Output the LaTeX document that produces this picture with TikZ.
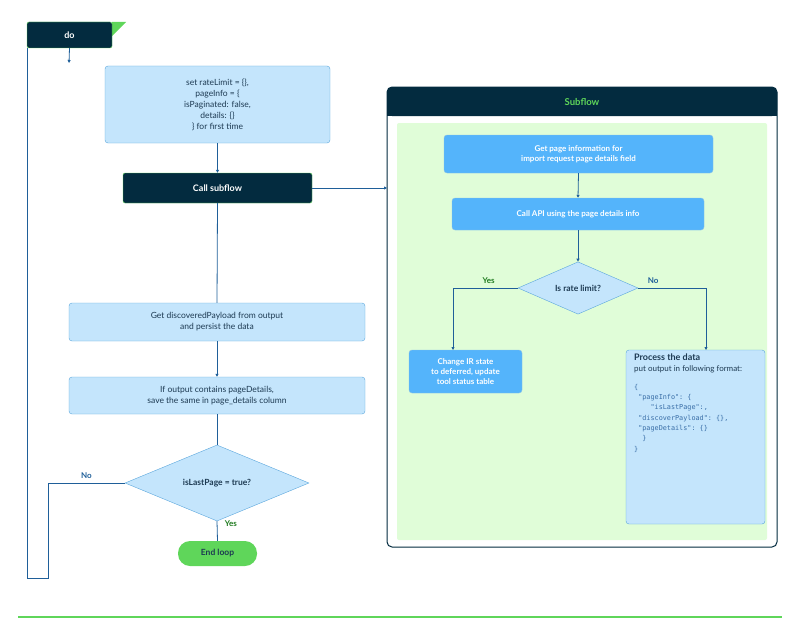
\documentclass[tikz,border=0pt]{standalone}
\usepackage{fontspec}
\setmainfont{Lato}
\setmonofont{DejaVu Sans Mono}
\usetikzlibrary{shapes.geometric,arrows.meta}
\definecolor{navy}{HTML}{032B3F}
\definecolor{lightbox}{HTML}{C4E5FC}
\definecolor{lightedge}{HTML}{5AA6DC}
\definecolor{midblue}{HTML}{54B4FB}
\definecolor{grass}{HTML}{5FD65A}
\definecolor{mint}{HTML}{E0FDD8}
\definecolor{flow}{HTML}{1F5F99}
\definecolor{txt}{HTML}{1D3A52}
\definecolor{yesgreen}{HTML}{1E7A1E}
\definecolor{codeblue}{HTML}{3A6FA8}
\tikzset{
  light/.style={draw=lightedge, fill=lightbox, rounded corners=3pt, text=txt, align=center, font=\fontsize{8.5}{11}\selectfont},
  dark/.style={draw=grass, fill=navy, rounded corners=2pt, text=white, font=\bfseries\fontsize{9}{10}\selectfont},
  mid/.style={draw=lightedge!70, fill=midblue, rounded corners=3pt, text=white, align=center, font=\bfseries\fontsize{8}{10}\selectfont},
  decision/.style={diamond, draw=lightedge, fill=lightbox, text=txt, font=\bfseries\fontsize{8.5}{10}\selectfont, inner sep=0pt},
  flowline/.style={draw=flow, line width=0.8pt},
  arr/.style={flowline, -{Triangle[length=3pt,width=3pt]}},
  lbl/.style={font=\bfseries\fontsize{8}{9}\selectfont},
}
\begin{document}
\begin{tikzpicture}[x=1pt,y=-1pt]
\useasboundingbox (0,0) rectangle (800,626);

% Loop head
\fill[grass] (112,22) -- (126,22) -- (112,36) -- cycle;
\node[dark, minimum width=85pt, minimum height=26pt] (do) at (69.5,35) {do};

% Main column
\node[light, minimum width=225pt, minimum height=77pt] (init) at (217.5,104.5)
  {set rateLimit = \{\},\\ pageInfo = \{\\ isPaginated: false,\\ details: \{\}\\ \} for first time};
\node[dark, minimum width=189pt, minimum height=30pt] (call) at (217.5,188) {Call subflow};
\node[light, minimum width=296pt, minimum height=38pt] (persist) at (217,322)
  {Get discoveredPayload from output\\ and persist the data};
\node[light, minimum width=296pt, minimum height=37pt] (save) at (217,395.5)
  {If output contains pageDetails,\\ save the same in page\_details column};
\node[decision, minimum width=184pt, minimum height=76pt] (last) at (217,483) {isLastPage = true?};
\node[fill=grass, rounded corners=12pt, minimum width=79pt, minimum height=25pt, font=\bfseries\fontsize{8.5}{10}\selectfont, text=txt] (end) at (217.5,553.5) {End loop};

\coordinate (doin) at (69,63);
\draw[arr] (do.south) -- (doin);
\draw[arr] (init.south) -- (call.north);
\draw[flowline] (call.south) -- (persist.north);
\draw[arr] (persist.south) -- (save.north);
\draw[flowline] (save.south) -- (last.north);
\draw[flowline] (last.south) -- (end.north) node[lbl, text=yesgreen, pos=0.1, right=4pt] {Yes};
\draw[flowline] (last.west) -- (48,483) node[lbl, text=flow, pos=0.5, above=1pt] {No}
  -- (48,578) -- (27,578) -- (27,48);

% Subflow frame
\draw[navy, line width=1pt, rounded corners=5pt, fill=white] (387,87) rectangle (777,547);
\fill[navy, rounded corners=5pt] (387,87) rectangle (777,116);
\fill[navy] (387,105) rectangle (777,116);
\node[text=grass, font=\bfseries\fontsize{9.5}{11}\selectfont] (subtitle) at (582,102) {Subflow};
\fill[mint, rounded corners=2pt] (397,123) rectangle (767,540);
\coordinate (subin) at (387,188);
\draw[arr] (call.east |- subin) -- (subin);

\node[mid, minimum width=269pt, minimum height=38pt] (pginfo) at (578.5,154)
  {Get page information for\\ import request page details field};
\node[mid, minimum width=252pt, minimum height=32pt] (api) at (578,214) {Call API using the page details info};
\node[decision, minimum width=120pt, minimum height=52pt] (rate) at (578,288) {Is rate limit?};
\node[mid, minimum width=113pt, minimum height=43pt] (defer) at (465.5,371.5)
  {Change IR state\\ to deferred, update\\ tool status table};
\node[light, minimum width=139pt, minimum height=174pt] (proc) at (695.5,437) {};
\node[anchor=north west, align=left, text=txt, inner sep=0pt, font=\fontsize{8}{11}\selectfont] (proctext) at (634,354)
  {\textbf{\fontsize{9}{10}\selectfont Process the data}\\ put output in following format:};
\node[anchor=north west, align=left, text=codeblue, inner sep=0pt, font=\ttfamily\fontsize{6.8}{10.3}\selectfont] (code) at (634,384)
  {\{\\
  \ "pageInfo": \{\\
  \ \ \ \ "isLastPage":,\\
  \ "discoverPayload": \{\},\\
  \ "pageDetails": \{\}\\
  \ \ \}\\
  \}};

\coordinate (yesdrop) at (453,350);
\coordinate (nodrop) at (706,350);
\draw[arr] (api.south) -- (rate.north);
\draw[arr] (pginfo.south) -- (api.north);
\draw[arr] (rate.west) -- (yesdrop |- rate.west) node[lbl, text=yesgreen, pos=0.45, above=1pt] {Yes} -- (yesdrop);
\draw[arr] (rate.east) -- (nodrop |- rate.east) node[lbl, text=flow, pos=0.22, above=1pt] {No} -- (nodrop);

% Footer rule
\draw[grass, line width=1.2pt] (18,617) -- (782,617);
\end{tikzpicture}
\end{document}
